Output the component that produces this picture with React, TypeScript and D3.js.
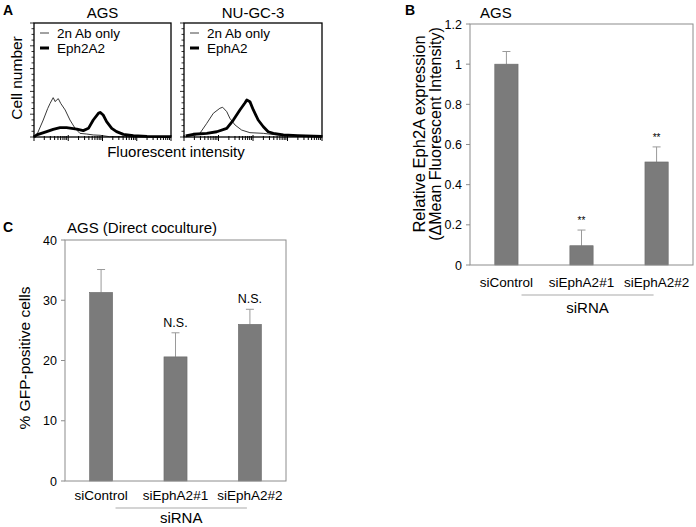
import React from "react";
import * as d3 from "d3";

// ---- data ----
// panel A: flow histograms, x = log10 fluorescence (0-4), y = relative cell count (0-100)
const agsControl: [number, number][] = [
  [0.0, 0], [0.08, 1.7], [0.27, 14.9], [0.4, 25], [0.47, 29.5], [0.56, 34.5], [0.62, 31], [0.66, 32.5],
  [0.71, 33.6], [0.78, 29.5], [0.91, 23.7], [1.05, 14.9], [1.2, 7.6], [1.34, 3.2], [1.54, 2.6],
  [1.73, 1.8], [1.93, 1.5], [2.2, 0.3], [4, 0],
];
const agsEphA2: [number, number][] = [
  [0.0, 0], [0.08, 1.8], [0.37, 4.7], [0.56, 6.7], [0.76, 8.2], [0.95, 8.2], [1.25, 7], [1.44, 5.6],
  [1.59, 7.6], [1.73, 14.9], [1.88, 20.8], [1.93, 21.6], [2.02, 19.3], [2.12, 13.5], [2.27, 7.6],
  [2.41, 4.7], [2.61, 2.3], [2.9, 1.1], [3.3, 0.5], [4, 0.3],
];
const nuControl: [number, number][] = [
  [0.05, 0.5], [0.3, 1.5], [0.46, 3.2], [0.66, 12], [0.85, 20.8], [1.04, 25.2], [1.12, 26.1],
  [1.24, 22.2], [1.33, 16.4], [1.48, 10.5], [1.67, 6.1], [1.91, 3.8], [2.3, 3.2], [2.78, 1.5],
  [3.2, 0.6], [4, 0.2],
];
const nuEphA2: [number, number][] = [
  [0.05, 1], [0.27, 2.4], [0.66, 3.2], [0.95, 4.6], [1.24, 7.6], [1.43, 14.9], [1.62, 23.7],
  [1.77, 30], [1.82, 32.5], [1.91, 31], [2.01, 23.7], [2.15, 14.9], [2.3, 9], [2.44, 4.6],
  [2.59, 3.2], [2.88, 1.8], [3.3, 1.2], [4, 0.6],
];

// panel B
const categories = ["siControl", "siEphA2#1", "siEphA2#2"];
const ephA2Values = [1.0, 0.096, 0.513];
const ephA2Errors = [0.063, 0.078, 0.075];
const ephA2Marks = ["", "**", "**"];
const ephA2Ticks = [0, 0.2, 0.4, 0.6, 0.8, 1, 1.2];

// panel C
const gfpValues = [31.3, 20.6, 26.0];
const gfpErrors = [3.8, 4.0, 2.5];
const gfpMarks = ["", "N.S.", "N.S."];
const gfpTicks = [0, 10, 20, 30, 40];

const FONT = "'Liberation Sans', Arial, Helvetica, sans-serif";
const BAR = "#7b7b7b";
const AXIS = "#8c8c8c";

type HistProps = {
  x0: number; x1: number; y0: number; y1: number; title: string;
  thin: [number, number][]; thick: [number, number][]; legend: [string, string];
};

const Histogram = ({ x0, x1, y0, y1, title, thin, thick, legend }: HistProps) => {
  const x = d3.scaleLinear().domain([0, 4]).range([x0, x1]);
  const y = d3.scaleLinear().domain([0, 100]).range([y1, y0]);
  const line = d3.line<[number, number]>().x(d => x(d[0])).y(d => y(d[1]));
  const logTicks: { v: number; major: boolean }[] = [];
  for (let dec = 0; dec < 4; dec++) {
    for (let k = 1; k <= 9; k++) logTicks.push({ v: dec + Math.log10(k), major: k === 1 });
  }
  logTicks.push({ v: 4, major: true });
  const yTicks = d3.range(0, 101, 5);
  return (
    <g>
      <text x={(x0 + x1) / 2} y={18} textAnchor="middle" fontSize={15}>{title}</text>
      <path d={line(thin) || ""} fill="none" stroke="#222" strokeWidth={0.9} />
      <path d={line(thick) || ""} fill="none" stroke="#000" strokeWidth={2.8} strokeLinejoin="round" />
      <rect x={x0} y={y0} width={x1 - x0} height={y1 - y0} fill="none" stroke="#000" strokeWidth={1.3} />
      {logTicks.map((t, i) => (
        <line key={"b" + i} x1={x(t.v)} x2={x(t.v)} y1={y1 - (t.major ? 2 : 1)} y2={y1 + (t.major ? 4 : 3)} stroke="#000" strokeWidth={1} />
      ))}
      {yTicks.map((t, i) => (
        <line key={"l" + i} x1={x0 - (t % 20 === 0 ? 4 : 2.5)} x2={x0} y1={y(t)} y2={y(t)} stroke="#000" strokeWidth={0.8} />
      ))}
      <line x1={x0 + 6} x2={x0 + 15} y1={33} y2={33} stroke="#444" strokeWidth={1} />
      <text x={x0 + 23} y={38} fontSize={13.5}>{legend[0]}</text>
      <line x1={x0 + 6} x2={x0 + 15} y1={48} y2={48} stroke="#000" strokeWidth={3} />
      <text x={x0 + 23} y={53} fontSize={13.5}>{legend[1]}</text>
    </g>
  );
};

type BarProps = {
  left: number; right: number; top: number; bottom: number;
  values: number[]; errors: number[]; marks: string[]; ticks: number[]; max: number;
  markSize: number; labelDy: number; groupDy: number; groupTextDy: number;
};

const BarPanel = ({ left, right, top, bottom, values, errors, marks, ticks, max, markSize, labelDy, groupDy, groupTextDy }: BarProps) => {
  const x = d3.scaleBand().domain(categories).range([left, right]).paddingInner(0.69).paddingOuter(0.33);
  const y = d3.scaleLinear().domain([0, max]).range([bottom, top]);
  const bw = x.bandwidth();
  const cx = (c: string) => (x(c) as number) + bw / 2;
  const gStart = cx(categories[1]) - 60;
  const gEnd = cx(categories[2]) - 3;
  return (
    <g fontFamily={FONT}>
      {values.map((v, i) => {
        const c = cx(categories[i]);
        const e = y(v + errors[i]);
        return (
          <g key={i}>
            <line x1={c} x2={c} y1={y(v)} y2={e} stroke="#9a9a9a" strokeWidth={1} />
            <line x1={c - 4} x2={c + 4} y1={e} y2={e} stroke="#9a9a9a" strokeWidth={1} />
            <rect x={c - bw / 2} y={y(v)} width={bw} height={bottom - y(v)} fill={BAR} stroke="#6a6a6a" strokeWidth={0.6} />
            {marks[i] && (
              <text x={c} y={e - 6} textAnchor="middle" fontSize={markSize}>{marks[i]}</text>
            )}
          </g>
        );
      })}
      <rect x={left} y={top} width={right - left} height={bottom - top} fill="none" stroke={AXIS} strokeWidth={1} />
      {ticks.map((t, i) => (
        <g key={i}>
          <line x1={left - 4} x2={left} y1={y(t)} y2={y(t)} stroke={AXIS} strokeWidth={1} />
          <text x={left - 8} y={y(t) + 4.5} textAnchor="end" fontSize={12.5}>{String(t)}</text>
        </g>
      ))}
      {categories.map(c => (
        <text key={c} x={cx(c)} y={bottom + labelDy} textAnchor="middle" fontSize={13.5}>{c}</text>
      ))}
      <line x1={gStart} x2={gEnd} y1={bottom + groupDy} y2={bottom + groupDy} stroke="#aaa" strokeWidth={1.2} />
      <text x={(gStart + gEnd) / 2} y={bottom + groupTextDy} textAnchor="middle" fontSize={15}>siRNA</text>
    </g>
  );
};

export default function App() {
  return (
    <svg width={696} height={527} style={{ position: "absolute", left: 0, top: 0, background: "#fff" }}
      fontFamily={FONT}>
      <rect width={696} height={527} fill="#fff" />
      {/* panel A */}
      <text x={3} y={15} fontSize={14} fontWeight="bold">A</text>
      <text transform="translate(22,78) rotate(-90)" textAnchor="middle" fontSize={15.5}>Cell number</text>
      <Histogram x0={34} x1={171} y0={23} y1={137} title="AGS" thin={agsControl} thick={agsEphA2}
        legend={["2n Ab only", "Eph2A2"]} />
      <Histogram x0={184} x1={322} y0={23} y1={137} title="NU-GC-3" thin={nuControl} thick={nuEphA2}
        legend={["2n Ab only", "EphA2"]} />
      <text x={176} y={157} textAnchor="middle" fontSize={15}>Fluorescent intensity</text>

      {/* panel B */}
      <text x={405} y={15} fontSize={14} fontWeight="bold">B</text>
      <text x={480} y={18} fontSize={15}>AGS</text>
      <text transform="translate(425,134) rotate(-90)" textAnchor="middle" fontSize={16.5}>Relative Eph2A expression</text>
      <text transform="translate(441,134) rotate(-90)" textAnchor="middle" fontSize={16}>(ΔMean Fluorescent Intensity)</text>
      <BarPanel left={470} right={693} top={24} bottom={265} values={ephA2Values} errors={ephA2Errors}
        marks={ephA2Marks} ticks={ephA2Ticks} max={1.2} markSize={10} labelDy={22} groupDy={30} groupTextDy={48} />

      {/* panel C */}
      <text x={3} y={232} fontSize={14} fontWeight="bold">C</text>
      <text x={67} y={233} fontSize={15}>AGS (Direct coculture)</text>
      <text transform="translate(30,358) rotate(-90)" textAnchor="middle" fontSize={15.5}>% GFP-positive cells</text>
      <BarPanel left={65} right={286} top={240} bottom={481} values={gfpValues} errors={gfpErrors}
        marks={gfpMarks} ticks={gfpTicks} max={40} markSize={12.5} labelDy={19} groupDy={27} groupTextDy={42} />
    </svg>
  );
}
